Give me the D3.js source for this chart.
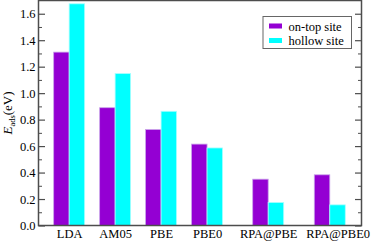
<!DOCTYPE html>
<html>
<head>
<meta charset="utf-8">
<script src="https://cdn.jsdelivr.net/npm/d3@7"></script>
<style>
  body { margin: 0; background: #fff; }
  svg text { font-family: 'Liberation Serif', 'Times New Roman', serif !important; }
  .axis path, .axis line { stroke: #4d4d4d; }
</style>
</head>
<body>
<div id="graph"></div>
<script>
// chart data
var methods = ["LDA", "AM05", "PBE", "PBE0", "RPA@PBE", "RPA@PBE0"];
var methodX = [1, 2, 3, 4, 5.33, 6.67];        // group centres on the x axis
var labelX = [1, 2, 3, 4, 5.33, 6.84];         // where the tick labels sit
var onTop = [1.31, 0.89, 0.725, 0.615, 0.35, 0.383];
var hollow = [1.675, 1.148, 0.863, 0.586, 0.174, 0.156];
var seriesNames = ["on-top site", "hollow site"];
var seriesColors = ["#9400d3", "#00ffff"];
var seriesEdges = ["#c9a3ea", "#a8ffff"];
var yTicks = [0, 0.2, 0.4, 0.6, 0.8, 1.0, 1.2, 1.4, 1.6];

var margin = { top: 0.5, right: 12.5, bottom: 15.5, left: 38.5 },
    width = 374 - margin.left - margin.right,
    height = 241 - margin.top - margin.bottom;

var svg = d3.select("#graph")
    .append("svg")
    .attr("width", 374)
    .attr("height", 241)
    .append("g")
    .attr("transform", "translate(" + margin.left + "," + margin.top + ")");

var x = d3.scaleLinear().domain([0.333, 7.36]).range([0, width]);
var y = d3.scaleLinear().domain([0, 1.7]).range([height, 0]);
var barW = 0.337;

// bars
var series = [onTop, hollow];
series.forEach(function (vals, s) {
    svg.append("g")
        .selectAll("rect")
        .data(vals)
        .enter()
        .append("rect")
        .attr("x", function (d, i) { return x(methodX[i] + (s - 1) * barW); })
        .attr("y", function (d) { return y(d); })
        .attr("width", x(barW) - x(0))
        .attr("height", function (d) { return y(0) - y(d); })
        .attr("fill", seriesColors[s])
        .attr("stroke", seriesEdges[s])
        .attr("stroke-width", 0.8);
});

// minor ticks (left and right, inward)
var minor = d3.range(0.1, 1.7, 0.2);
svg.append("g").attr("class", "axis")
    .call(d3.axisLeft(y).tickValues(minor).tickSize(-3.5).tickFormat(""))
    .select(".domain").remove();
svg.append("g").attr("class", "axis")
    .attr("transform", "translate(" + width + ",0)")
    .call(d3.axisRight(y).tickValues(minor).tickSize(-3.5).tickFormat(""))
    .select(".domain").remove();

// major ticks
svg.append("g").attr("class", "axis")
    .call(d3.axisLeft(y).tickValues(yTicks).tickSize(-6.5).tickPadding(3)
        .tickFormat(d3.format(".1f")))
    .call(function (g) {
        g.attr("font-size", 12.5);
        g.select(".domain").remove();
        g.selectAll("line").attr("stroke-width", 1.2);
        g.selectAll("text").attr("x", -3).attr("fill", "#000");
    });
svg.append("g").attr("class", "axis")
    .attr("transform", "translate(" + width + ",0)")
    .call(d3.axisRight(y).tickValues(yTicks).tickSize(-6.5).tickFormat(""))
    .call(function (g) {
        g.select(".domain").remove();
        g.selectAll("line").attr("stroke-width", 1.2);
    });

// x labels
svg.append("g").attr("class", "axis")
    .attr("transform", "translate(0," + height + ")")
    .call(d3.axisBottom(x).tickValues(labelX).tickSize(0).tickPadding(4)
        .tickFormat(function (d, i) { return methods[i]; }))
    .call(function (g) {
        g.attr("font-size", 12.5);
        g.select(".domain").remove();
        g.selectAll("text").attr("fill", "#000");
    });

// frame
svg.append("rect")
    .attr("width", width)
    .attr("height", height)
    .attr("fill", "none")
    .attr("stroke", "#4d4d4d")
    .attr("stroke-width", 1.5);

// y label
var yl = svg.append("text")
    .attr("transform", "translate(" + (-27) + "," + (height / 2) + ") rotate(-90)")
    .attr("text-anchor", "middle")
    .attr("font-size", 13);
yl.append("tspan").attr("font-style", "italic").text("E");
yl.append("tspan").attr("dy", 3).attr("font-size", 8.5).text("ads");
yl.append("tspan").attr("dy", -3).text("(eV)");

// legend
var lg = svg.append("g").attr("transform", "translate(" + (width - 98.5) + "," + 16 + ")");
lg.append("rect")
    .attr("width", 88.5).attr("height", 32)
    .attr("fill", "#fff").attr("stroke", "#666").attr("stroke-width", 1);
seriesNames.forEach(function (name, i) {
    lg.append("rect")
        .attr("x", 6).attr("y", 7 + i * 14.5)
        .attr("width", 13).attr("height", 5)
        .attr("fill", seriesColors[i]);
    lg.append("text")
        .attr("x", 25.5).attr("y", 14 + i * 14.5)
        .attr("font-size", 12.5)
        .text(name);
});
</script>
</body>
</html>
